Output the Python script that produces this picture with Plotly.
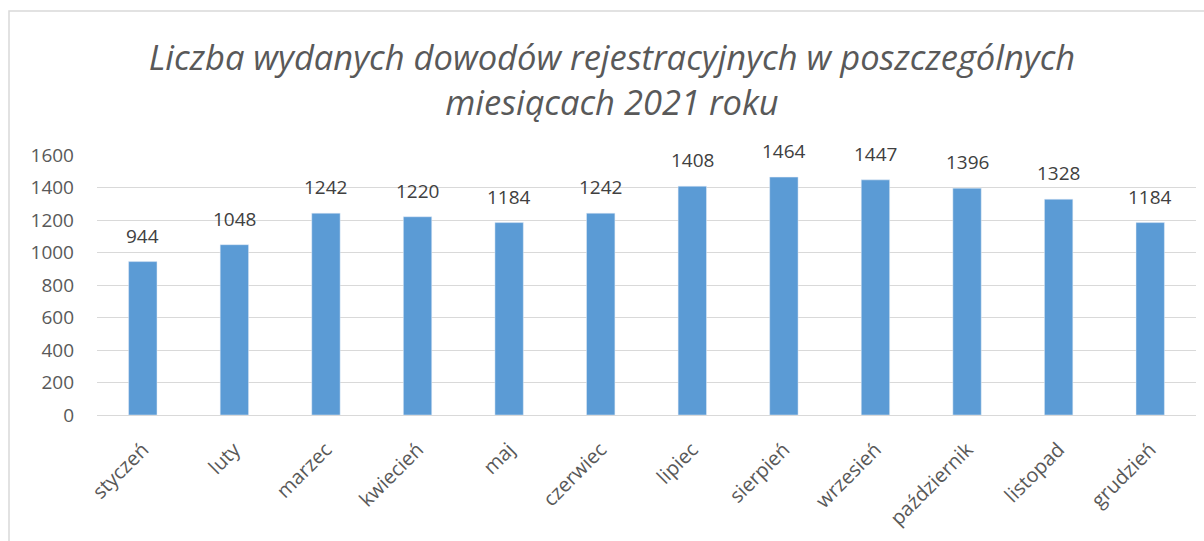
import plotly.graph_objects as go

months = ["styczeń", "luty", "marzec", "kwiecień", "maj", "czerwiec", "lipiec",
          "sierpień", "wrzesień", "październik", "listopad", "grudzień"]
values = [944, 1048, 1242, 1220, 1184, 1242, 1408, 1464, 1447, 1396, 1328, 1184]
y_ticks = [0, 200, 400, 600, 800, 1000, 1200, 1400, 1600]

W, H = 1204, 541
L, R, T, B = 97, 8, 155, 126
pw = W - L - R
ph = H - T - B

fig = go.Figure(go.Bar(
    x=months, y=values, marker_color="#5B9BD5", width=0.31,
))

for m, v in zip(months, values):
    fig.add_annotation(x=m, y=v, text=str(v), showarrow=False, yanchor="bottom",
                       yshift=11, font=dict(family="Open Sans", size=19, color="#404040"))

fig.update_layout(
    width=W, height=H, margin=dict(l=L, r=R, t=T, b=B, autoexpand=False),
    paper_bgcolor="white", plot_bgcolor="white", showlegend=False,
    title=dict(text="Liczba wydanych dowodów rejestracyjnych w poszczególnych<br>miesiącach 2021 roku",
               x=612 / W, xanchor="center", y=1 - 70 / H, yanchor="middle",
               font=dict(family="Open Sans", size=34.5, color="#595959", style="italic")),
    xaxis=dict(tickangle=-45, automargin=False, ticklabelstandoff=14,
               tickfont=dict(family="Open Sans", size=20, color="#595959"),
               showline=True, linecolor="#D9D9D9", linewidth=1, ticks=""),
    yaxis=dict(range=[0, 1600], tickvals=y_ticks, showgrid=True, gridcolor="#D9D9D9",
               automargin=False, gridwidth=1, zeroline=False, ticks="", ticklen=0,
               ticklabelstandoff=22,
               tickfont=dict(family="Open Sans", size=19, color="#595959")),
    shapes=[dict(type="rect", xref="paper", yref="paper",
                 x0=(9 - L) / pw, x1=(W + 10 - L) / pw,
                 y0=(T + ph - (H + 10)) / ph, y1=(T + ph - 11) / ph,
                 line=dict(color="#D9D9D9", width=1.5), fillcolor="rgba(0,0,0,0)", layer="below")],
)

fig.write_html("out.html", config={"displayModeBar": False},
               post_script="document.body.style.margin='0px';")
